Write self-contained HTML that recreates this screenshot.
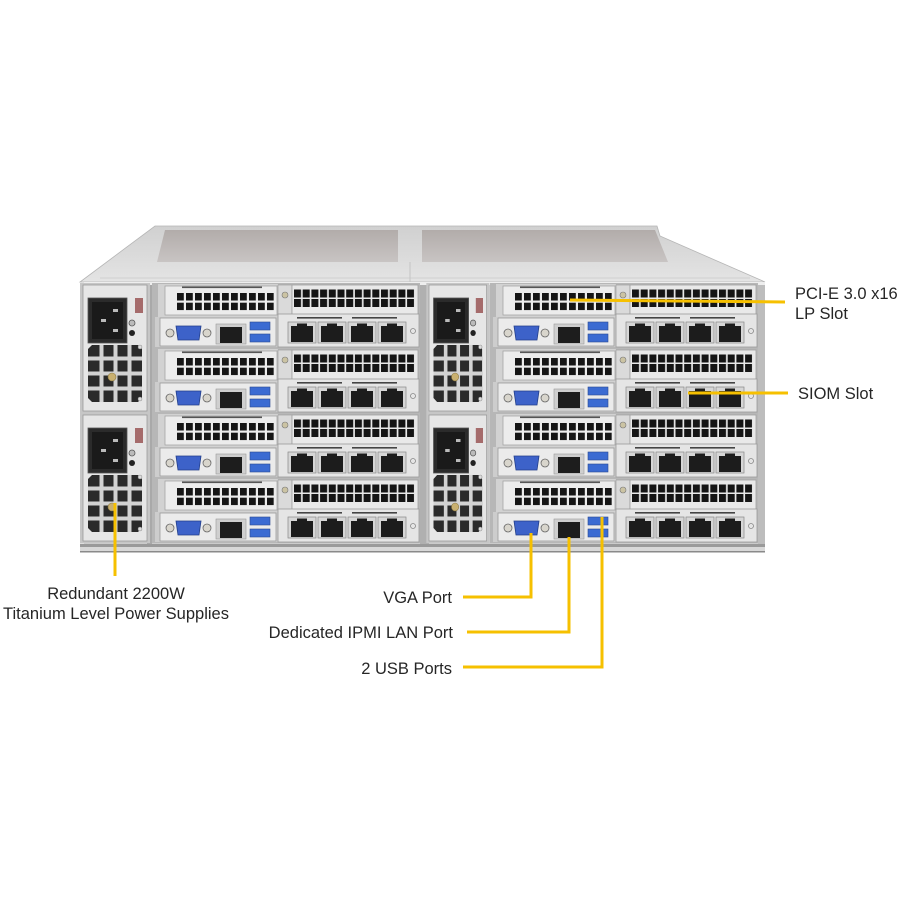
<!DOCTYPE html>
<html><head><meta charset="utf-8">
<style>
html,body{margin:0;padding:0;background:#fff;width:900px;height:900px;overflow:hidden}
svg{display:block}
text{font-family:"Liberation Sans",Arial,sans-serif;fill:#262626;font-size:16.5px}
</style></head>
<body>
<svg width="900" height="900" viewBox="0 0 900 900" xmlns="http://www.w3.org/2000/svg">
<defs>
  <linearGradient id="topg" x1="0" y1="0" x2="0" y2="1">
    <stop offset="0" stop-color="#d0d0d0"/><stop offset="1" stop-color="#e4e4e4"/>
  </linearGradient>
  <linearGradient id="pan" x1="0" y1="0" x2="0" y2="1">
    <stop offset="0" stop-color="#b2acaa"/><stop offset="1" stop-color="#c8c4c3"/>
  </linearGradient>
  <pattern id="pL" x="25" y="10" width="9" height="9.7" patternUnits="userSpaceOnUse">
    <rect width="6.8" height="7.5" fill="#151515"/>
  </pattern>
  <pattern id="pR" x="142" y="6.5" width="8.7" height="9.5" patternUnits="userSpaceOnUse">
    <rect width="7" height="8" fill="#151515"/>
  </pattern>

  <g id="rj">
    <rect x="0" y="0" width="28" height="21" fill="#d6d6d6" stroke="#888" stroke-width="0.7"/>
    <rect x="3" y="4" width="22" height="16" fill="#1c1c1c"/>
    <rect x="9" y="1.5" width="10" height="3" fill="#1c1c1c"/>
  </g>

  <g id="node">
    <rect x="0" y="0" width="268" height="65" fill="#b7b7b7"/>
    <rect x="6" y="1" width="120" height="33" fill="#d2d2d2"/>
    <rect x="13" y="3" width="112" height="29" fill="#ececec" stroke="#a5a5a5" stroke-width="0.8"/>
    <rect x="30" y="3.5" width="80" height="1.6" fill="#555"/>
    <rect x="25" y="10" width="96.8" height="17.2" fill="url(#pL)"/>
    <rect x="126" y="2" width="14" height="30" fill="#dadada" stroke="#999" stroke-width="0.6"/>
    <circle cx="133" cy="12" r="3" fill="#cbc3a3" stroke="#777" stroke-width="0.6"/>
    <rect x="140" y="2" width="126" height="30" fill="#e9e9e9" stroke="#a0a0a0" stroke-width="0.8"/>
    <rect x="142" y="6.5" width="120.1" height="17.5" fill="url(#pR)"/>
    <rect x="3" y="34" width="123" height="30" fill="#cdcdcd"/>
    <rect x="8" y="35" width="116" height="28" fill="#ebebeb" stroke="#9c9c9c" stroke-width="0.8"/>
    <circle cx="18" cy="50" r="4" fill="#d8d5cc" stroke="#666" stroke-width="0.8"/>
    <circle cx="55" cy="50" r="4" fill="#d8d5cc" stroke="#666" stroke-width="0.8"/>
    <path d="M24,43 L49,43 L47,57 L26,57 Z" fill="#3d62c9" stroke="#233f8a" stroke-width="0.8"/>
    <rect x="64" y="41" width="30" height="20" fill="#cfcfcf" stroke="#999" stroke-width="0.6"/>
    <rect x="68" y="44" width="22" height="16" fill="#1d1d1d"/>
    <rect x="98" y="39" width="20" height="8" fill="#3b6bd2" stroke="#2a4a90" stroke-width="0.6"/>
    <rect x="98" y="51" width="20" height="8" fill="#3b6bd2" stroke="#2a4a90" stroke-width="0.6"/>
    <rect x="126" y="31" width="141" height="33" fill="#e5e5e5" stroke="#9a9a9a" stroke-width="0.8"/>
    <rect x="145" y="34" width="45" height="1.6" fill="#444"/>
    <rect x="200" y="34" width="45" height="1.6" fill="#444"/>
    <use href="#rj" x="136" y="39"/>
    <use href="#rj" x="166" y="39"/>
    <use href="#rj" x="196" y="39"/>
    <use href="#rj" x="226" y="39"/>
    <circle cx="261" cy="48" r="2.5" fill="none" stroke="#888" stroke-width="0.8"/>
  </g>

  <g id="psu">
    <rect x="-3" y="-2" width="70" height="130" fill="#c6c6c6"/>
    <rect x="0" y="0" width="64" height="126" fill="#e6e6e6" stroke="#9a9a9a" stroke-width="0.8"/>
    <rect x="5" y="13" width="39" height="45" fill="#2b2b2b" stroke="#555" stroke-width="0.8"/>
    <rect x="9" y="17" width="31" height="37" fill="#1a1a1a"/>
    <rect x="30" y="24" width="5" height="3" fill="#bbb"/>
    <rect x="18" y="34" width="5" height="3" fill="#bbb"/>
    <rect x="30" y="44" width="5" height="3" fill="#bbb"/>
    <rect x="52" y="13" width="8" height="15" fill="#a56b6b"/>
    <circle cx="49" cy="38" r="3" fill="#bbb" stroke="#555" stroke-width="0.8"/>
    <circle cx="49" cy="48" r="3" fill="#222"/>
    <path d="M9,60 L55,60 L59,64 L59,113 L55,117 L9,117 L5,113 L5,64 Z" fill="#2a2a2a"/>
    <rect x="16.5" y="60" width="4" height="57" fill="#d2d2d2"/>
    <rect x="30.5" y="60" width="4" height="57" fill="#d2d2d2"/>
    <rect x="44.5" y="60" width="4" height="57" fill="#d2d2d2"/>
    <rect x="5" y="71.5" width="54" height="4" fill="#d2d2d2"/>
    <rect x="5" y="86.5" width="54" height="4" fill="#d2d2d2"/>
    <rect x="5" y="101.5" width="54" height="4" fill="#d2d2d2"/>
    <circle cx="29" cy="92" r="4" fill="#c9b070" stroke="#8a7740" stroke-width="0.6"/>
    <circle cx="57" cy="62" r="2" fill="#ddd" stroke="#888" stroke-width="0.5"/>
    <circle cx="57" cy="114" r="2" fill="#ddd" stroke="#888" stroke-width="0.5"/>
  </g>
</defs>

<rect width="900" height="900" fill="#fff"/>

<polygon points="155,226 657,226 660,236 765,282 80,282" fill="url(#topg)" stroke="#b5b5b5" stroke-width="0.8"/>
<polygon points="165,230 398,230 398,262 157,262" fill="url(#pan)"/>
<polygon points="422,230 655,230 668,262 422,262" fill="url(#pan)"/>
<line x1="410" y1="262" x2="410" y2="282" stroke="#c4c4c4" stroke-width="1"/>
<line x1="100" y1="278" x2="750" y2="278" stroke="#c8c8c8" stroke-width="0.8"/>

<rect x="80" y="282" width="685" height="268" fill="#cbcbcb"/>
<rect x="80" y="282" width="685" height="3" fill="#eeeeee"/>
<rect x="80" y="282" width="4" height="268" fill="#dedede"/>
<rect x="147" y="285" width="5" height="262" fill="#a9a9a9"/>
<rect x="420" y="285" width="9" height="262" fill="#b0b0b0"/>
<rect x="758" y="285" width="7" height="262" fill="#bdbdbd"/>
<rect x="80" y="544" width="685" height="3" fill="#9a9a9a"/>
<rect x="80" y="547" width="685" height="5" fill="#d8d8d8"/>
<rect x="80" y="551" width="685" height="1.5" fill="#8a8a8a"/>

<use href="#psu" x="83" y="285"/>
<use href="#psu" x="83" y="415"/>
<g transform="translate(429,285) scale(0.9,1)"><use href="#psu"/></g>
<g transform="translate(429,415) scale(0.9,1)"><use href="#psu"/></g>

<use href="#node" x="152" y="283"/>
<use href="#node" x="152" y="348"/>
<use href="#node" x="152" y="413"/>
<use href="#node" x="152" y="478"/>
<use href="#node" x="490" y="283"/>
<use href="#node" x="490" y="348"/>
<use href="#node" x="490" y="413"/>
<use href="#node" x="490" y="478"/>

<g fill="none" stroke="#f6c000" stroke-width="3" stroke-linecap="butt" stroke-linejoin="miter">
  <line x1="115" y1="503" x2="115" y2="576"/>
  <line x1="570" y1="300" x2="785" y2="302"/>
  <line x1="688" y1="393" x2="788" y2="393"/>
  <polyline points="463,597 531,597 531,533"/>
  <polyline points="467,632 569,632 569,537"/>
  <polyline points="463,667 602,667 602,517"/>
</g>

<text x="116" y="599" text-anchor="middle">Redundant 2200W</text>
<text x="116" y="619" text-anchor="middle">Titanium Level Power Supplies</text>
<text x="452" y="603" text-anchor="end">VGA Port</text>
<text x="453" y="638" text-anchor="end">Dedicated IPMI LAN Port</text>
<text x="452" y="674" text-anchor="end">2 USB Ports</text>
<text x="795" y="299">PCI-E 3.0 x16</text>
<text x="795" y="319">LP Slot</text>
<text x="798" y="399">SIOM Slot</text>
</svg>
</body></html>
